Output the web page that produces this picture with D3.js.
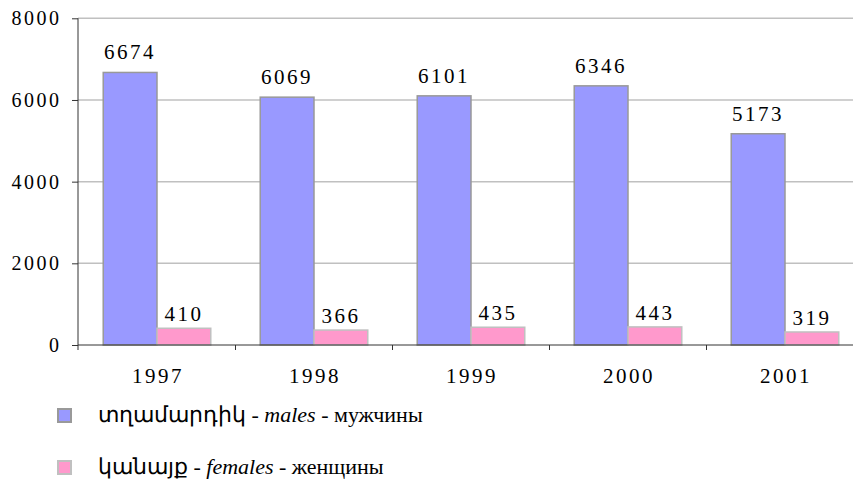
<!DOCTYPE html>
<html lang="en">
<head>
<meta charset="utf-8" />
<title>Males and females by year</title>
<script src="https://cdn.jsdelivr.net/npm/d3@7"></script>
<style>
body { margin: 0; background: #fff; }
svg text { font-family: "Times New Roman", "Liberation Serif", Times, serif; fill: #000; }
</style>
</head>
<body>
<div id="chart"></div>
<script type="text/javascript">
// chart values
var years = ["1997", "1998", "1999", "2000", "2001"];
var males = [6674, 6069, 6101, 6346, 5173];
var females = [410, 366, 435, 443, 319];
var yTicks = [0, 2000, 4000, 6000, 8000];
var seriesNames = ["males", "females"];

var W = 853, H = 482;
var plotLeft = 78, plotBottom = 345, plotTop = 18.3;

var svg = d3.select("#chart").append("svg")
    .attr("width", W)
    .attr("height", H);

var y = d3.scaleLinear().domain([0, 8000]).range([plotBottom, plotTop]);
var x0 = d3.scaleBand().domain(years).range([plotLeft + 0.5, plotLeft + 0.5 + 5 * 157])
    .paddingInner(0.315).paddingOuter(0.1575);
var x1 = d3.scaleBand().domain(seriesNames).range([0, x0.bandwidth()]);

// gridlines
svg.append("g").selectAll("line")
   .data(yTicks.filter(function (d) { return d > 0; }))
   .enter().append("line")
   .attr("x1", plotLeft).attr("x2", W)
   .attr("y1", function (d) { return y(d); })
   .attr("y2", function (d) { return y(d); })
   .attr("stroke", "#c0c0c0")
   .attr("stroke-width", 1.5);

// y axis
var yAxis = svg.append("g")
   .attr("transform", "translate(" + plotLeft + ",0)")
   .call(d3.axisLeft(y).tickValues(yTicks).tickSize(6).tickPadding(13).tickFormat(d3.format("d")));
yAxis.attr("font-family", null).attr("font-size", null);
yAxis.select(".domain").attr("stroke", "#333").attr("d", "M0," + plotTop + "V" + (plotBottom + 5));
yAxis.selectAll(".tick line").attr("stroke", "#333");
yAxis.selectAll("text")
   .style("font-size", "20px")
   .style("letter-spacing", "2.5px")
   .attr("dx", "2.5px");

// bars
var groups = svg.append("g").selectAll("g")
   .data(years)
   .enter().append("g")
   .attr("transform", function (d) { return "translate(" + x0(d) + ",0)"; });

var data = [
  { name: "males", values: males, fill: "#9999ff", stroke: "#999999", gap: 13 },
  { name: "females", values: females, fill: "#ff99cc", stroke: "#c0c0c0", gap: 7 }
];

data.forEach(function (s) {
  groups.append("rect")
     .attr("x", x1(s.name))
     .attr("y", function (d, i) { return y(s.values[i]); })
     .attr("width", x1.bandwidth())
     .attr("height", function (d, i) { return plotBottom - y(s.values[i]); })
     .attr("fill", s.fill)
     .attr("stroke", s.stroke)
     .attr("stroke-width", 1.5);
  groups.append("text")
     .attr("x", x1(s.name) + x1.bandwidth() / 2)
     .attr("y", function (d, i) { return y(s.values[i]) - s.gap; })
     .attr("text-anchor", "middle")
     .style("font-size", "21px")
     .style("letter-spacing", "2.5px")
     .text(function (d, i) { return s.values[i]; });
});

// x axis
svg.append("line")
   .attr("x1", plotLeft).attr("x2", W)
   .attr("y1", plotBottom).attr("y2", plotBottom)
   .attr("stroke", "#333");
svg.append("g").selectAll("line")
   .data(years.slice(1))
   .enter().append("line")
   .attr("x1", function (d) { return x0(d) - x0.step() * x0.paddingInner() / 2; })
   .attr("x2", function (d) { return x0(d) - x0.step() * x0.paddingInner() / 2; })
   .attr("y1", plotBottom).attr("y2", plotBottom + 5)
   .attr("stroke", "#333");
svg.append("g").selectAll("text")
   .data(years)
   .enter().append("text")
   .attr("x", function (d) { return x0(d) + x0.bandwidth() / 2 + 1; })
   .attr("y", 383)
   .attr("text-anchor", "middle")
   .style("font-size", "21px")
   .style("letter-spacing", "2.5px")
   .text(function (d) { return d; });

// legend
var legend = [
  { arm: "տղամարդիկ", en: "males", ru: "мужчины", fill: "#9999ff", stroke: "#999999", y: 409 },
  { arm: "կանայք", en: "females", ru: "женщины", fill: "#ff99cc", stroke: "#c0c0c0", y: 461 }
];
legend.forEach(function (l) {
  svg.append("rect")
     .attr("x", 58).attr("y", l.y)
     .attr("width", 13).attr("height", 13)
     .attr("fill", l.fill)
     .attr("stroke", l.stroke)
     .attr("stroke-width", 2);
  var t = svg.append("text")
     .attr("x", 98).attr("y", l.y + 13)
     .style("font-size", "22px");
  t.append("tspan").text(l.arm + " - ");
  t.append("tspan").style("font-style", "italic").text(l.en);
  t.append("tspan").text(" - " + l.ru);
});
</script>
</body>
</html>
